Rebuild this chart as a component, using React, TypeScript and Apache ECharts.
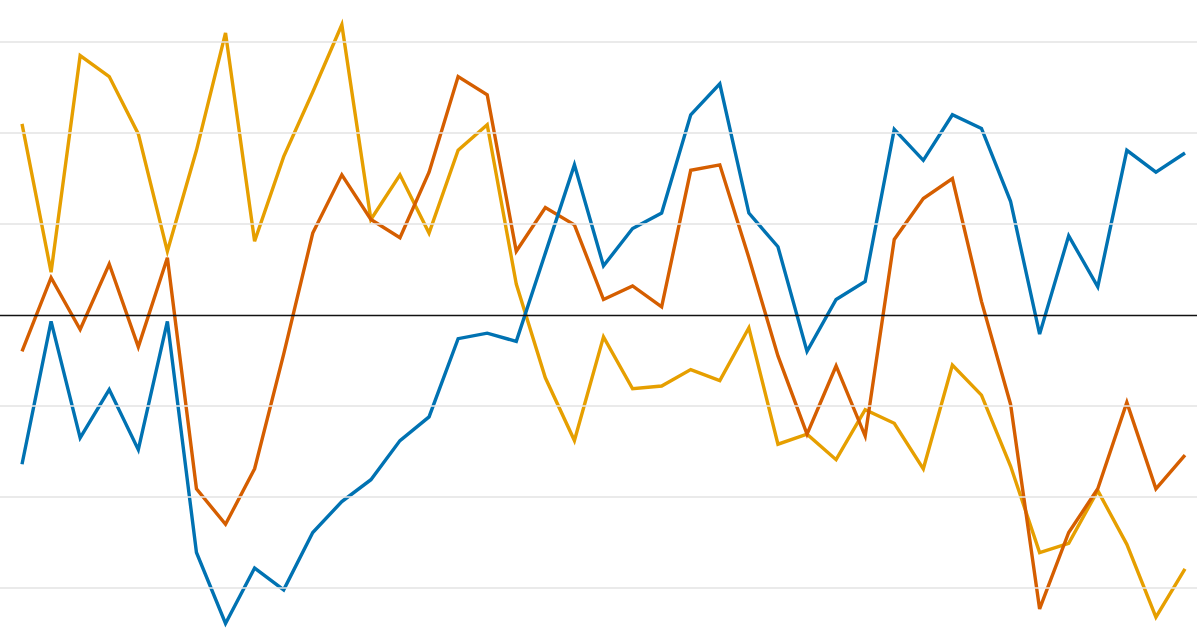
import * as echarts from "echarts";
import { useEffect, useRef } from "react";

// 41 evenly spaced observations, three series
const blueValues = [
  -1.64, -0.07, -1.35, -0.82, -1.48, -0.07, -2.61, -3.39, -2.78, -3.02,
  -2.39, -2.05, -1.81, -1.38, -1.12, -0.26, -0.2, -0.29, 0.68, 1.65,
  0.54, 0.95, 1.12, 2.2, 2.54, 1.12, 0.75, -0.4, 0.17, 0.37,
  2.04, 1.7, 2.2, 2.05, 1.25, -0.21, 0.87, 0.31, 1.81, 1.57, 1.78,
];

const orangeValues = [
  -0.4, 0.41, -0.16, 0.56, -0.35, 0.63, -1.91, -2.3, -1.69, -0.43,
  0.9, 1.54, 1.05, 0.85, 1.57, 2.62, 2.42, 0.7, 1.18, 0.99,
  0.17, 0.32, 0.09, 1.59, 1.65, 0.63, -0.45, -1.31, -0.56, -1.33,
  0.83, 1.28, 1.5, 0.15, -0.98, -3.23, -2.39, -1.91, -0.96, -1.91, -1.54,
];

const yellowValues = [
  2.1, 0.47, 2.85, 2.62, 1.99, 0.7, 1.81, 3.1, 0.81, 1.74,
  2.45, 3.19, 1.05, 1.54, 0.9, 1.81, 2.09, 0.34, -0.69, -1.38,
  -0.24, -0.81, -0.78, -0.6, -0.72, -0.14, -1.42, -1.31, -1.59, -1.04,
  -1.19, -1.69, -0.55, -0.88, -1.66, -2.61, -2.51, -1.93, -2.52, -3.32, -2.79,
];

const gridValues = [-3, -2, -1, 1, 2, 3];

const toPairs = (vals: number[]) => vals.map((v, i) => [i, v]);

export default function App() {
  const ref = useRef<HTMLDivElement | null>(null);

  useEffect(() => {
    if (!ref.current) return;
    const chart = echarts.init(ref.current, null, { renderer: "svg" });

    const lineSeries = (name: string, color: string, vals: number[], z: number) => ({
      name,
      type: "line" as const,
      data: toPairs(vals),
      showSymbol: false,
      symbol: "none",
      z,
      lineStyle: { color, width: 3.4, join: "miter" as const },
      itemStyle: { color },
    });

    chart.setOption({
      animation: false,
      backgroundColor: "#ffffff",
      grid: { left: 0, right: 0, top: 0, bottom: 0 },
      xAxis: {
        type: "value",
        min: -0.757,
        max: 40.413,
        show: false,
        splitLine: { show: false },
      },
      yAxis: {
        type: "value",
        min: -3.4615,
        max: 3.4615,
        show: false,
        splitLine: { show: false },
      },
      series: [
        {
          name: "grid",
          type: "line",
          data: [],
          z: 1,
          silent: true,
          markLine: {
            silent: true,
            symbol: ["none", "none"],
            label: { show: false },
            data: [
              ...gridValues.map((v) => ({
                yAxis: v,
                lineStyle: { color: "#e3e3e3", width: 1.5, type: "solid" },
              })),
              { yAxis: 0, lineStyle: { color: "#111111", width: 1.3, type: "solid" } },
            ],
          },
        },
        lineSeries("C", "#E69F00", yellowValues, 2),
        lineSeries("B", "#D55E00", orangeValues, 3),
        lineSeries("A", "#0072B2", blueValues, 4),
      ],
    });

    return () => chart.dispose();
  }, []);

  return (
    <div
      ref={ref}
      style={{ position: "fixed", left: 0, top: 0, width: 1197, height: 630 }}
    />
  );
}
